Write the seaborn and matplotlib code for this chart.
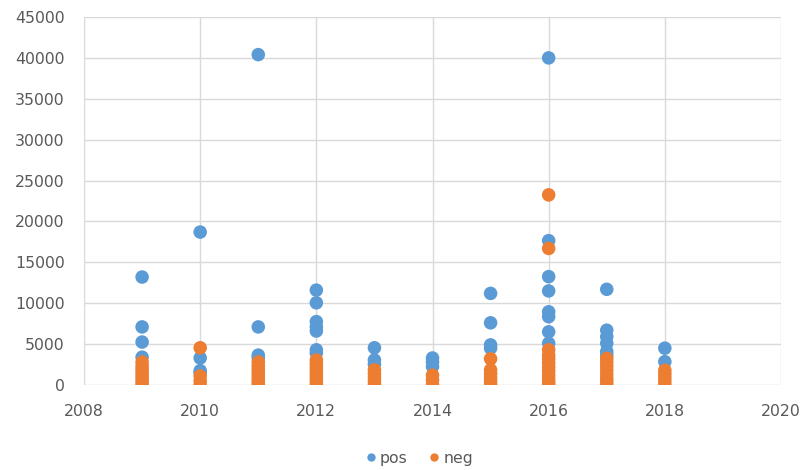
import matplotlib
matplotlib.use("Agg")
import matplotlib.pyplot as plt
import seaborn as sns
import pandas as pd
from matplotlib.lines import Line2D

# ---- data ----
pos_year = [2009, 2009, 2009, 2009,
            2010, 2010, 2010, 2010,
            2011, 2011, 2011, 2011,
            2012, 2012, 2012, 2012, 2012, 2012, 2012,
            2013, 2013, 2013,
            2014, 2014, 2014,
            2015, 2015, 2015, 2015,
            2016, 2016, 2016, 2016, 2016, 2016, 2016, 2016,
            2017, 2017, 2017, 2017, 2017, 2017,
            2018, 2018]
pos_value = [13200, 7100, 5250, 3400,
             18700, 3300, 1750, 1500,
             40400, 7100, 3650, 3300,
             11600, 10050, 7750, 7100, 6600, 4300, 3900,
             4550, 3050, 2550,
             3300, 2800, 2250,
             11200, 7600, 4900, 4500,
             40000, 17650, 13250, 11500, 8950, 8350, 6500, 5100,
             11700, 6700, 5900, 5100, 4100, 3650,
             4500, 2850]

neg_year = [2009] * 8 + [2010] * 4 + [2011] * 8 + [2012] * 8 + [2013] * 5 + \
           [2014] * 3 + [2015] * 6 + [2016] * 12 + [2017] * 8 + [2018] * 5
neg_value = [2800, 2300, 1900, 1500, 1100, 700, 300, 0,
             4550, 1100, 500, 0,
             2800, 2300, 1900, 1500, 1100, 700, 300, 0,
             3050, 2600, 2150, 1700, 1250, 850, 400, 0,
             1850, 1400, 900, 450, 0,
             1200, 600, 0,
             3200, 1850, 1400, 900, 450, 0,
             23250, 16700, 4300, 3650, 3200, 2700, 2200, 1700, 1200, 700, 300, 0,
             3250, 2800, 2300, 1800, 1300, 800, 400, 0,
             1800, 1350, 900, 450, 0]

series_names = ["pos", "neg"]
series_colors = ["#5B9BD5", "#ED7D31"]

x_ticks = [2008, 2010, 2012, 2014, 2016, 2018, 2020]
y_ticks = [0, 5000, 10000, 15000, 20000, 25000, 30000, 35000, 40000, 45000]

df = pd.DataFrame({
    "year": pos_year + neg_year,
    "value": pos_value + neg_value,
    "series": [series_names[0]] * len(pos_year) + [series_names[1]] * len(neg_year),
})

sns.set_theme(style="white")
plt.rcParams["font.family"] = ["DejaVu Sans"]

fig = plt.figure(figsize=(8.04, 4.70), dpi=100)
ax = fig.add_axes([0.1045, 0.1809, 0.8669, 0.7829])

sns.scatterplot(data=df, x="year", y="value", hue="series",
                palette=dict(zip(series_names, series_colors)),
                s=95, marker="o", edgecolor="none", linewidth=0,
                legend=False, ax=ax, zorder=3)

ax.set_xlim(2008, 2020)
ax.set_ylim(0, 45000)
ax.set_xticks(x_ticks)
ax.set_yticks(y_ticks)
ax.set_xticklabels([str(t) for t in x_ticks])
ax.set_yticklabels([str(t) for t in y_ticks])
ax.set_xlabel("")
ax.set_ylabel("")

ax.grid(True, color="#D9D9D9", linewidth=1.0, zorder=0)
ax.set_axisbelow(True)
for sp in ax.spines.values():
    sp.set_visible(False)
ax.tick_params(axis="both", length=0, labelsize=11.3, labelcolor="#595959")
ax.tick_params(axis="y", pad=14)
ax.tick_params(axis="x", pad=14)

handles = [Line2D([0], [0], marker="o", linestyle="none", markersize=6,
                  markerfacecolor=c, markeredgecolor="none") for c in series_colors]
fig.legend(handles, series_names, loc="center", bbox_to_anchor=(0.52, 0.025),
           ncol=2, frameon=False, fontsize=11.3, labelcolor="#595959",
           handletextpad=0.1, columnspacing=1.2, handlelength=1.0)

fig.savefig("out.png", dpi=100)
